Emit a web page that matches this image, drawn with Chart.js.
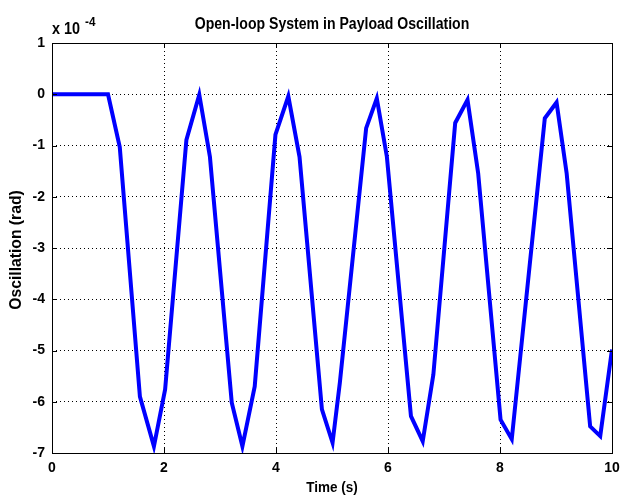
<!DOCTYPE html>
<html>
<head>
<meta charset="utf-8">
<script src="https://cdn.jsdelivr.net/npm/chart.js@4"></script>
<style>
  html, body { margin: 0; padding: 0; background: #fff; }
  #wrap { width: 623px; height: 499px; position: relative; }
</style>
</head>
<body>
<div id="wrap"><canvas id="chartCanvas"></canvas></div>
<script>
// ---------------- data (y in units of 1e-4 rad) ----------------
const timeS = [0, 1.0, 1.21, 1.57, 1.82, 2.02, 2.40, 2.63, 2.82, 3.21, 3.40, 3.62, 3.99, 4.22, 4.42,
  4.82, 5.01, 5.14, 5.61, 5.80, 5.98, 6.41, 6.62, 6.81, 7.20, 7.42, 7.61, 8.01, 8.21, 8.80, 9.01,
  9.19, 9.61, 9.79, 10.0];
const oscE4 = [0, 0, -1.03, -5.9, -6.87, -5.76, -0.89, -0.01, -1.22, -6.02, -6.87, -5.7, -0.79, -0.04, -1.22,
  -6.15, -6.8, -5.63, -0.66, -0.08, -1.22, -6.28, -6.77, -5.47, -0.56, -0.11, -1.54, -6.35, -6.73, -0.47, -0.16,
  -1.54, -6.48, -6.67, -4.98];
const xTicks = [0, 2, 4, 6, 8, 10];
const yTicks = [-7, -6, -5, -4, -3, -2, -1, 0, 1];

const titleText = 'Open-loop System in Payload Oscillation';
const xTitle = 'Time (s)';
const yTitle = 'Oscillation (rad)';

const FONT = '"Liberation Sans Narrow", "Liberation Sans", Arial, sans-serif';

// 窄字：水平縮放後畫字
function narrowText(c, txt, x, y, size, sx) {
  c.save();
  c.font = 'bold ' + size + 'px ' + FONT;
  c.translate(x, y);
  c.scale(sx, 1);
  c.fillText(txt, 0, 0);
  c.restore();
}

// ---------------- 標註 / 外框 ----------------
const matlabDeco = {
  id: 'matlabDeco',
  afterDraw(chart) {
    const c = chart.ctx, a = chart.chartArea;
    c.save();
    // box
    c.strokeStyle = '#000';
    c.lineWidth = 1;
    c.strokeRect(Math.round(a.left) + 0.5, Math.round(a.top) + 0.5,
      Math.round(a.right - a.left), Math.round(a.bottom - a.top));
    // inward ticks
    const xs = chart.scales.x, ys = chart.scales.y;
    c.beginPath();
    xTicks.forEach(t => {
      const px = Math.round(xs.getPixelForValue(t)) + 0.5;
      c.moveTo(px, a.bottom); c.lineTo(px, a.bottom - 5);
      c.moveTo(px, a.top); c.lineTo(px, a.top + 5);
    });
    yTicks.forEach(t => {
      const py = Math.round(ys.getPixelForValue(t)) + 0.5;
      c.moveTo(a.left, py); c.lineTo(a.left + 5, py);
      c.moveTo(a.right, py); c.lineTo(a.right - 5, py);
    });
    c.stroke();

    c.fillStyle = '#000';
    c.textBaseline = 'middle';
    // title
    c.textAlign = 'center';
    narrowText(c, titleText, (a.left + a.right) / 2, 25, 16, 0.88);
    // exponent
    c.textAlign = 'left';
    narrowText(c, 'x 10', 52, 30, 16, 0.9);
    narrowText(c, '-4', 85, 22, 13, 0.9);
    // axis titles
    c.textAlign = 'center';
    narrowText(c, xTitle, (a.left + a.right) / 2, 488, 15, 0.9);
    c.translate(17, 250);
    c.rotate(-Math.PI / 2);
    narrowText(c, yTitle, 0, 0, 16, 0.98);
    c.restore();
  }
};

// ---------------- Chart.js ----------------
const ctx = document.getElementById('chartCanvas').getContext('2d');
const chart = new Chart(ctx, {
  type: 'line',
  data: {
    datasets: [{
      data: timeS.map((t, i) => ({ x: t, y: oscE4[i] })),
      borderColor: '#0000ff',
      borderWidth: 4,
      pointRadius: 0,
      tension: 0,
      fill: false
    }]
  },
  options: {
    responsive: true,
    maintainAspectRatio: false,
    animation: false,
    layout: { padding: { left: 0, top: 43, right: 11, bottom: 0 } },
    plugins: { legend: { display: false }, tooltip: { enabled: false }, title: { display: false } },
    scales: {
      x: {
        type: 'linear', min: 0, max: 10,
        afterBuildTicks: s => { s.ticks = xTicks.map(v => ({ value: v })); },
        afterFit: s => { s.height = 46; s.paddingLeft = 0; s.paddingRight = 0; },
        grid: { color: '#000', lineWidth: 1, drawTicks: false },
        border: { display: false, dash: [1, 3] },
        ticks: { color: '#000', font: { family: FONT, size: 14, weight: 'bold' }, padding: 7, maxRotation: 0 }
      },
      y: {
        type: 'linear', min: -7, max: 1,
        afterBuildTicks: s => { s.ticks = yTicks.map(v => ({ value: v })); },
        afterFit: s => { s.width = 52; s.paddingTop = 0; s.paddingBottom = 0; },
        grid: { color: '#000', lineWidth: 1, drawTicks: false },
        border: { display: false, dash: [1, 3] },
        ticks: { color: '#000', font: { family: FONT, size: 14, weight: 'bold' }, padding: 7 }
      }
    }
  },
  plugins: [matlabDeco]
});
</script>
</body>
</html>
